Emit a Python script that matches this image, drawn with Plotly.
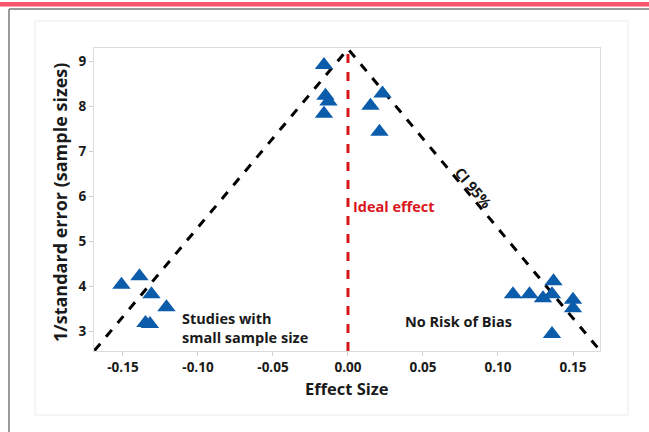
import plotly.graph_objects as go

# Data
effect_size = [-0.151, -0.139, -0.131, -0.121, -0.135, -0.132,
               -0.016, -0.015, -0.013, -0.016,
               0.023, 0.015, 0.021,
               0.110, 0.121, 0.130, 0.137, 0.136, 0.150, 0.150, 0.136]
inv_se = [4.03, 4.22, 3.82, 3.53, 3.18, 3.16,
          8.91, 8.23, 8.10, 7.83,
          8.28, 8.01, 7.43,
          3.82, 3.82, 3.73, 4.11, 3.82, 3.70, 3.51, 2.94]
funnel_x = [-0.169, 0.0, 0.168]
funnel_y = [2.57, 9.27, 2.57]
ideal_x = [0.0, 0.0]
ideal_y = [2.56, 9.27]
x_ticks = [-0.15, -0.10, -0.05, 0.00, 0.05, 0.10, 0.15]
x_ticklabels = ["-0.15", "-0.10", "-0.05", "0.00", "0.05", "0.10", "0.15"]
y_ticks = [3, 4, 5, 6, 7, 8, 9]

FONT = "Open Sans"
W, H = 649, 432
L, R, T, B = 94, 600, 48, 351

def px(x):
    return (x - L) / (R - L)

def py(y):
    return (B - y) / (B - T)

fig = go.Figure()
fig.add_trace(go.Scatter(x=ideal_x, y=ideal_y, mode="lines",
                         line=dict(color="#D9151B", width=3, dash="dash"),
                         hoverinfo="skip", showlegend=False))
fig.add_trace(go.Scatter(x=funnel_x, y=funnel_y, mode="lines",
                         line=dict(color="black", width=3, dash="dash"),
                         hoverinfo="skip", showlegend=False))
fig.add_trace(go.Scatter(x=effect_size, y=inv_se, mode="markers",
                         marker=dict(symbol="triangle-up", size=16, color="#0B5CAB",
                                     line=dict(width=0)),
                         showlegend=False))

shapes = [
    dict(type="rect", xref="paper", yref="paper", x0=px(0), x1=px(W), y0=py(6.5), y1=py(2),
         fillcolor="#F9556B", line=dict(width=0), layer="below"),
    dict(type="line", xref="paper", yref="paper", x0=px(9), x1=px(9), y0=py(9), y1=py(H),
         line=dict(color="#9a9a9a", width=2)),
    dict(type="line", xref="paper", yref="paper", x0=px(9), x1=px(W), y0=py(9), y1=py(9),
         line=dict(color="#9a9a9a", width=2)),
    dict(type="rect", xref="paper", yref="paper", x0=px(35), x1=px(628), y0=py(415), y1=py(21),
         line=dict(color="#ececec", width=1), layer="below"),
]

TXT = "#1a1a1a"
annotations = [
    dict(text="Ideal effect", x=0.002, y=5.78, xref="x", yref="y",
         xanchor="left", yanchor="middle",
         showarrow=False, font=dict(family=FONT, size=14.5, color="#D9151B", weight="bold")),
    dict(text="CI 95%", x=0.0835, y=6.2, xref="x", yref="y", textangle=50,
         xanchor="center", yanchor="middle",
         showarrow=False, font=dict(family=FONT, size=14.5, color=TXT, weight="bold")),
    dict(text="Studies with<br>small sample size", x=-0.112, y=3.07, xref="x", yref="y",
         xanchor="left", yanchor="middle", align="left", showarrow=False,
         font=dict(family=FONT, size=14.5, color=TXT, weight="bold")),
    dict(text="No Risk of Bias", x=0.074, y=3.22, xref="x", yref="y",
         xanchor="center", yanchor="middle",
         showarrow=False, font=dict(family=FONT, size=14.5, color=TXT, weight="bold")),
    dict(text="Effect Size", x=px(347), y=py(388), xref="paper", yref="paper",
         xanchor="center", yanchor="middle",
         showarrow=False, font=dict(family=FONT, size=16.5, color=TXT, weight="bold")),
    dict(text="1/standard error (sample sizes)", x=px(60), y=py(203), xref="paper", yref="paper",
         xanchor="center", yanchor="middle",
         textangle=-90, showarrow=False,
         font=dict(family=FONT, size=18, color=TXT, weight="bold")),
]

fig.update_layout(
    width=W, height=H,
    margin=dict(l=L, r=W - R, t=T, b=H - B, autoexpand=False),
    paper_bgcolor="white", plot_bgcolor="white",
    shapes=shapes, annotations=annotations,
    xaxis=dict(range=[-0.1693, 0.168], tickvals=x_ticks, ticktext=x_ticklabels,
               showgrid=False, zeroline=False, showline=True, linecolor="#dcdcdc",
               linewidth=1, mirror=True, ticks="outside", ticklen=4, tickcolor="#cfcfcf",
               tickfont=dict(family=FONT, size=13.5, color=TXT, weight="bold")),
    yaxis=dict(range=[2.56, 9.29], tickvals=y_ticks,
               showgrid=False, zeroline=False, showline=True, linecolor="#dcdcdc",
               linewidth=1, mirror=True, ticks="outside", ticklen=4, tickcolor="#cfcfcf",
               tickfont=dict(family=FONT, size=13.5, color=TXT, weight="bold")),
)

fig.write_html("out.html", config={"displayModeBar": False},
               post_script="document.body.style.margin='0';document.body.style.overflow='hidden';")
